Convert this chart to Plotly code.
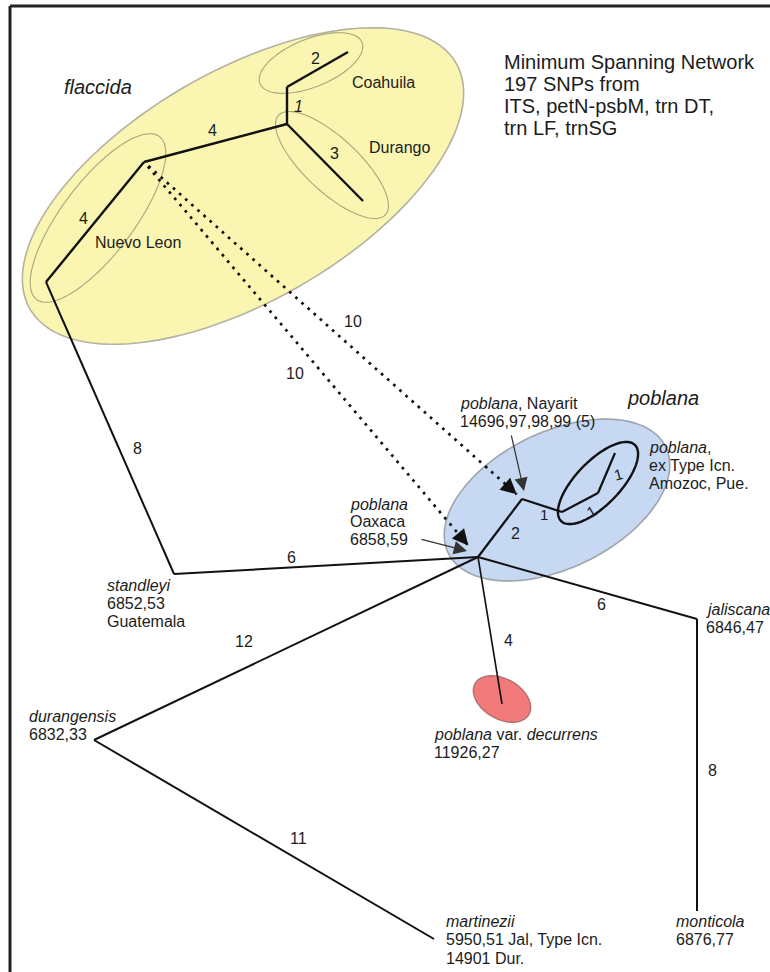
import numpy as np
import plotly.graph_objects as go

# ---------------- network data (layout positions of haplotype nodes) ----------------
node_id = ["coahuila", "coa_base", "fl_junction", "durango", "nl_top", "nl_bottom",
           "standleyi", "hub_oaxaca", "nayarit", "amozoc_a", "amozoc_b", "amozoc_c",
           "decurrens", "jaliscana", "monticola", "durangensis", "martinezii"]
node_x = [348, 287, 287, 363, 144, 46, 174, 478, 522, 562, 598, 615, 502, 697, 697, 94, 434]
node_y = [52, 87, 124, 201, 162, 282, 574, 557, 499, 512, 493, 453, 704, 619, 911, 740, 939]

edge_from = ["coa_base", "fl_junction", "fl_junction", "nl_top", "nl_top", "nl_bottom",
             "standleyi", "hub_oaxaca", "nayarit", "amozoc_a", "amozoc_b", "hub_oaxaca",
             "hub_oaxaca", "jaliscana", "hub_oaxaca", "durangensis"]
edge_to = ["coahuila", "coa_base", "durango", "fl_junction", "nl_bottom", "standleyi",
           "hub_oaxaca", "nayarit", "amozoc_a", "amozoc_b", "amozoc_c", "decurrens",
           "jaliscana", "monticola", "durangensis", "martinezii"]
edge_steps = ["2", "<i>1</i>", "3", "4", "4", "8", "6", "2", "1", "1", "1", "4", "6", "8", "12", "11"]

dashed_from = ["nl_top", "nl_top"]
dashed_to = ["nayarit", "hub_oaxaca"]
dashed_steps = ["10", "10"]

# groups drawn as ellipses: centre, semi-axes, tilt (deg, counter-clockwise)
group_name = ["flaccida", "Coahuila", "Durango", "Nuevo Leon", "poblana", "Amozoc", "decurrens"]
group_cx = [243, 311, 332, 98, 557, 598, 502]
group_cy = [186, 63, 165, 218, 500, 483, 699]
group_a = [246, 55, 73, 102, 121, 53, 31]
group_b = [115, 24, 27, 36, 68, 22, 20]
group_ang = [30, 22, -43, 53, 26, 46, -30]

title_lines = ["Minimum Spanning Network", "197 SNPs from", "ITS, petN-psbM, trn DT,", "trn LF, trnSG"]

taxon_lines = {
    "standleyi": ["<i>standleyi</i>", "6852,53", "Guatemala"],
    "durangensis": ["<i>durangensis</i>", "6832,33"],
    "oaxaca": ["<i>poblana</i>", "Oaxaca", "6858,59"],
    "nayarit": ["<i>poblana</i>, Nayarit", "14696,97,98,99 (5)"],
    "amozoc": ["<i>poblana</i>,", "ex Type Icn.", "Amozoc, Pue."],
    "decurrens": ["<i>poblana</i> var. <i>decurrens</i>", "11926,27"],
    "jaliscana": ["<i>jaliscana</i>", "6846,47"],
    "monticola": ["<i>monticola</i>", "6876,77"],
    "martinezii": ["<i>martinezii</i>", "5950,51 Jal, Type Icn.", "14901 Dur."],
}

# ---------------- styling / placement ----------------
FONT = "Liberation Sans, Arial, Helvetica, sans-serif"
TXT = "#1c1c1c"
W, H = 770, 972

edge_width = [2.4, 2.4, 2.4, 2.4, 2.4, 2.0, 2.0, 2.2, 2.2, 2.2, 2.2, 1.6, 2.0, 2.0, 2.0, 2.0]
edge_label_xy = [(315, 58), (298, 106), (334, 153), (212, 130), (83, 218), (137, 448),
                 (291, 557), (515, 533), (544, 514), (591, 511), (618, 474), (508, 640),
                 (601, 604), (712, 770), (244, 641), (298, 838)]
edge_label_size = [16, 16, 16, 16, 16, 16, 16, 16, 15, 15, 15, 16, 16, 16, 16, 16]
edge_label_angle = [0, 0, 0, 0, 0, 0, 0, 0, 0, -30, -15, 0, 0, 0, 0, 0]
dashed_label_xy = [(353, 321), (295, 373)]
dashed_trim = [7, 15]

group_fill = ["rgba(250,246,178,1)", "rgba(0,0,0,0)", "rgba(0,0,0,0)", "rgba(0,0,0,0)",
              "rgba(198,216,242,1)", "rgba(0,0,0,0)", "rgba(243,122,122,1)"]
group_line = ["#b4b2a0", "#a8a57e", "#a8a57e", "#a8a57e", "#a0a4ac", "#111111", "#b07070"]
group_lw = [1.6, 1.1, 1.1, 1.1, 1.6, 2.4, 1.4]

taxon_pos = {
    "standleyi": (105, 585, 18), "durangensis": (27, 716, 18), "oaxaca": (348, 504, 17.5),
    "nayarit": (458, 403, 18), "amozoc": (647, 447, 18), "decurrens": (432, 734, 18),
    "jaliscana": (704, 609, 18), "monticola": (674, 921, 18), "martinezii": (444, 921, 18.5),
}

pos = {n: (x, y) for n, x, y in zip(node_id, node_x, node_y)}


def ellipse_path(cx, cy, a, b, ang, n=120):
    t = np.linspace(0, 2 * np.pi, n)
    th = np.radians(ang)
    xs = cx + a * np.cos(t) * np.cos(th) + b * np.sin(t) * np.sin(th)
    ys = cy - a * np.cos(t) * np.sin(th) + b * np.sin(t) * np.cos(th)
    pts = " L ".join(f"{x:.2f},{y:.2f}" for x, y in zip(xs, ys))
    return "M " + pts + " Z"


fig = go.Figure()
shapes = []
for i in range(len(group_name)):
    shapes.append(dict(type="path", xref="x", yref="y", layer="below",
                       path=ellipse_path(group_cx[i], group_cy[i], group_a[i], group_b[i], group_ang[i]),
                       fillcolor=group_fill[i], line=dict(color=group_line[i], width=group_lw[i])))

# frame
shapes.append(dict(type="line", xref="x", yref="y", x0=10, y0=6, x1=W, y1=6,
                   line=dict(color="#222222", width=3)))
shapes.append(dict(type="line", xref="x", yref="y", x0=10, y0=6, x1=10, y1=H,
                   line=dict(color="#222222", width=3)))

# solid edges
for f, t, w in zip(edge_from, edge_to, edge_width):
    (x0, y0), (x1, y1) = pos[f], pos[t]
    fig.add_trace(go.Scatter(x=[x0, x1], y=[y0, y1], mode="lines",
                             line=dict(color="#111111", width=w), hoverinfo="skip", showlegend=False))

annotations = []
# dashed (reticulate) edges with arrowheads
for f, t, trim in zip(dashed_from, dashed_to, dashed_trim):
    (x0, y0), (x1, y1) = pos[f], pos[t]
    d = np.hypot(x1 - x0, y1 - y0)
    ux, uy = (x1 - x0) / d, (y1 - y0) / d
    x1e, y1e = x1 - ux * trim, y1 - uy * trim
    x0s, y0s = x0 + ux * 6, y0 + uy * 6
    fig.add_trace(go.Scatter(x=[x0s, x1e], y=[y0s, y1e], mode="lines",
                             line=dict(color="#111111", width=2.7, dash="2.7px,5.5px"),
                             hoverinfo="skip", showlegend=False))
    annotations.append(dict(x=x1e, y=y1e, ax=x1e - ux * 9, ay=y1e - uy * 9, xref="x", yref="y",
                            axref="x", ayref="y", showarrow=True, arrowhead=2, arrowsize=1.6,
                            arrowwidth=2, arrowcolor="#111111", text=""))

# pointer arrows
annotations.append(dict(x=524, y=491, ax=511, ay=434, xref="x", yref="y", axref="x", ayref="y",
                        showarrow=True, arrowhead=2, arrowsize=2.2, arrowwidth=1.2,
                        arrowcolor="#333333", text=""))
annotations.append(dict(x=467, y=551, ax=420, ay=539, xref="x", yref="y", axref="x", ayref="y",
                        showarrow=True, arrowhead=2, arrowsize=2.2, arrowwidth=1.2,
                        arrowcolor="#333333", text=""))

# edge step labels
for lab, (lx, ly), fs, ang in zip(edge_steps, edge_label_xy, edge_label_size, edge_label_angle):
    annotations.append(dict(x=lx, y=ly, text=lab, showarrow=False, xref="x", yref="y",
                            textangle=ang, font=dict(family=FONT, size=fs, color=TXT)))
for lab, (lx, ly) in zip(dashed_steps, dashed_label_xy):
    annotations.append(dict(x=lx, y=ly, text=lab, showarrow=False, xref="x", yref="y",
                            font=dict(family=FONT, size=16, color=TXT)))

# title block
for k, line in enumerate(title_lines):
    annotations.append(dict(x=502, y=62 + 22 * k, text=line, showarrow=False, xref="x", yref="y",
                            xanchor="left", yanchor="middle", font=dict(family=FONT, size=20, color=TXT)))

# big group names
annotations.append(dict(x=98, y=87, text="<i>flaccida</i>", showarrow=False, xref="x", yref="y",
                        font=dict(family=FONT, size=20, color=TXT)))
annotations.append(dict(x=663, y=398, text="<i>poblana</i>", showarrow=False, xref="x", yref="y",
                        font=dict(family=FONT, size=20, color=TXT)))
# sub-group names
for name, (lx, ly) in zip(["Coahuila", "Durango", "Nuevo Leon"], [(383, 82), (399, 147), (138, 242)]):
    annotations.append(dict(x=lx, y=ly, text=name, showarrow=False, xref="x", yref="y",
                            font=dict(family=FONT, size=16, color=TXT)))

# taxon labels
for key, lines in taxon_lines.items():
    lx, ly, gap = taxon_pos[key]
    for k, line in enumerate(lines):
        annotations.append(dict(x=lx, y=ly + gap * k, text=line, showarrow=False, xref="x", yref="y",
                                xanchor="left", yanchor="middle",
                                font=dict(family=FONT, size=16, color=TXT)))

fig.update_layout(
    width=W, height=H, margin=dict(l=0, r=0, t=0, b=0),
    paper_bgcolor="white", plot_bgcolor="white",
    xaxis=dict(range=[0, W], visible=False, fixedrange=True),
    yaxis=dict(range=[H, 0], visible=False, fixedrange=True),
    shapes=shapes, annotations=annotations, showlegend=False,
)

fig.write_html("out.html", config={"displayModeBar": False},
               post_script="document.body.style.margin='0';document.body.style.overflow='hidden';")
